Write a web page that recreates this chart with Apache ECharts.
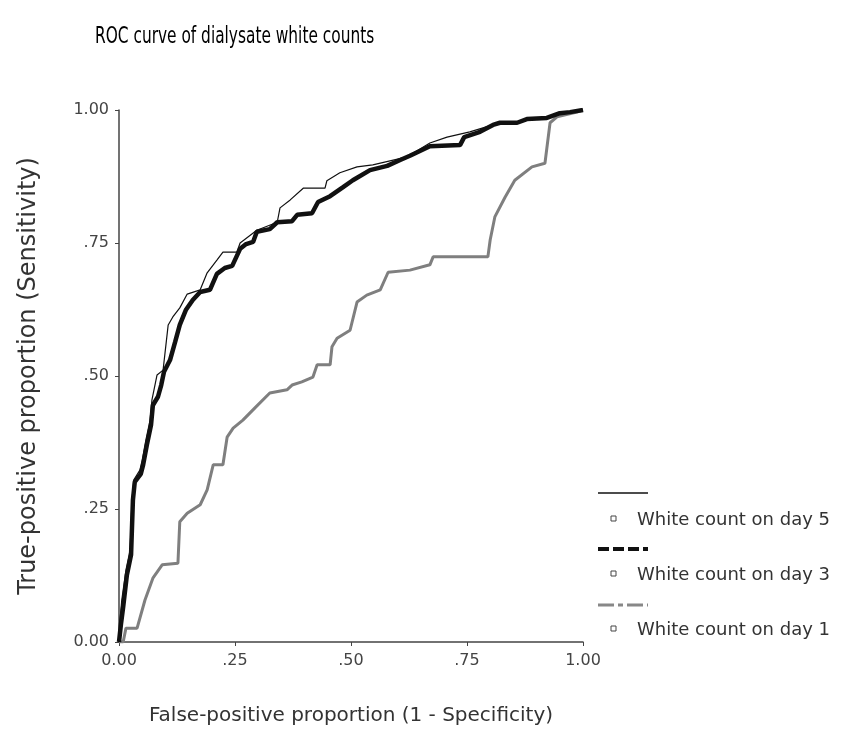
<!DOCTYPE html>
<html>
<head>
<meta charset="utf-8">
<script src="https://cdn.jsdelivr.net/npm/echarts@6/dist/echarts.min.js"></script>
<style>
  html, body { margin: 0; padding: 0; background: #fff; }
  #chart { width: 844px; height: 748px; }
</style>
</head>
<body>
<div id="chart"></div>
<script>
// ROC points: [1 - specificity, sensitivity]
const day5 = [
  [0, 0], [0.002, 0.041], [0.006, 0.079], [0.015, 0.135], [0.024, 0.173],
  [0.028, 0.267], [0.032, 0.305], [0.045, 0.323], [0.050, 0.342], [0.058, 0.380],
  [0.067, 0.417], [0.071, 0.455], [0.082, 0.502], [0.095, 0.511], [0.106, 0.596],
  [0.116, 0.611], [0.131, 0.628], [0.147, 0.654], [0.175, 0.662], [0.190, 0.694],
  [0.211, 0.718], [0.224, 0.733], [0.254, 0.733], [0.261, 0.750], [0.297, 0.774],
  [0.341, 0.789], [0.347, 0.816], [0.369, 0.831], [0.397, 0.853], [0.444, 0.853],
  [0.448, 0.867], [0.476, 0.882], [0.513, 0.893], [0.547, 0.897], [0.621, 0.912],
  [0.670, 0.938], [0.707, 0.949], [0.756, 0.959], [0.806, 0.972], [0.858, 0.976],
  [0.879, 0.983], [0.922, 0.985], [0.950, 0.994], [1, 1]
];
const day3 = [
  [0, 0], [0.004, 0.032], [0.009, 0.066], [0.017, 0.126], [0.026, 0.164],
  [0.030, 0.267], [0.034, 0.301], [0.047, 0.316], [0.052, 0.333], [0.060, 0.370],
  [0.069, 0.408], [0.073, 0.445], [0.084, 0.461], [0.091, 0.483], [0.097, 0.508],
  [0.110, 0.530], [0.121, 0.564], [0.131, 0.596], [0.144, 0.624], [0.159, 0.643],
  [0.175, 0.658], [0.196, 0.662], [0.211, 0.692], [0.228, 0.703], [0.244, 0.707],
  [0.261, 0.739], [0.274, 0.748], [0.289, 0.752], [0.297, 0.771], [0.325, 0.776],
  [0.341, 0.789], [0.373, 0.791], [0.384, 0.803], [0.416, 0.806], [0.429, 0.827],
  [0.455, 0.838], [0.483, 0.855], [0.504, 0.868], [0.541, 0.887], [0.578, 0.895],
  [0.606, 0.906], [0.627, 0.914], [0.670, 0.932], [0.735, 0.934], [0.744, 0.949],
  [0.778, 0.959], [0.806, 0.972], [0.821, 0.976], [0.858, 0.976], [0.879, 0.983],
  [0.922, 0.985], [0.950, 0.994], [0.972, 0.996], [1, 1]
];
const day1 = [
  [0, 0], [0.009, 0], [0.015, 0.026], [0.039, 0.026], [0.056, 0.079],
  [0.073, 0.120], [0.093, 0.145], [0.127, 0.148], [0.131, 0.226], [0.147, 0.242],
  [0.175, 0.258], [0.190, 0.286], [0.203, 0.333], [0.224, 0.333], [0.233, 0.385],
  [0.246, 0.402], [0.267, 0.417], [0.293, 0.440], [0.325, 0.468], [0.362, 0.474],
  [0.373, 0.483], [0.394, 0.489], [0.418, 0.498], [0.427, 0.521], [0.455, 0.521],
  [0.459, 0.555], [0.470, 0.571], [0.498, 0.586], [0.513, 0.639], [0.534, 0.652],
  [0.563, 0.662], [0.580, 0.695], [0.627, 0.699], [0.670, 0.709], [0.677, 0.724],
  [0.795, 0.724], [0.800, 0.756], [0.810, 0.799], [0.832, 0.836], [0.853, 0.868],
  [0.890, 0.893], [0.918, 0.900], [0.929, 0.976], [0.944, 0.987], [0.987, 0.996],
  [1, 1]
];
const tickValues = [0, 0.25, 0.5, 0.75, 1];
const tickLabels = ['0.00', '.25', '.50', '.75', '1.00'];
const seriesNames = ['White count on day 5', 'White count on day 3', 'White count on day 1'];
const titleText = 'ROC curve of dialysate white counts';

const txt = '#333';
const font = '"DejaVu Sans", sans-serif';
const narrow = '"DejaVu Sans Condensed", "Liberation Sans Narrow", sans-serif';
const fmt = v => {
  const i = tickValues.findIndex(t => Math.abs(t - v) < 1e-6);
  return i >= 0 ? tickLabels[i] : '';
};
const axisCommon = {
  type: 'value', min: 0, max: 1, interval: 0.25,
  nameLocation: 'middle',
  axisLine: { show: true, lineStyle: { color: '#444', width: 1.5 } },
  axisTick: { show: true, length: 4, lineStyle: { color: '#444' } },
  axisLabel: { color: '#444', fontSize: 16, fontFamily: font, formatter: fmt },
  splitLine: { show: false }
};

const chart = echarts.init(document.getElementById('chart'));
chart.setOption({
  backgroundColor: '#fff',
  animation: false,
  grid: { left: 119, top: 110, width: 464, height: 532 },
  xAxis: Object.assign({}, axisCommon, {
    name: 'False-positive proportion (1 - Specificity)', nameGap: 64,
    nameTextStyle: { color: txt, fontFamily: font, fontSize: 20 },
    axisLabel: Object.assign({}, axisCommon.axisLabel, { margin: 11 })
  }),
  yAxis: Object.assign({}, axisCommon, {
    name: 'True-positive proportion (Sensitivity)', nameGap: 78,
    nameTextStyle: { color: txt, fontFamily: font, fontSize: 24 },
    axisLabel: Object.assign({}, axisCommon.axisLabel, { margin: 10 })
  }),
  series: [
    {
      name: seriesNames[2], type: 'line', data: day1, symbol: 'none', z: 1,
      lineStyle: { color: '#7f7f7f', width: 3 }
    },
    {
      name: seriesNames[1], type: 'line', data: day3, symbol: 'none', z: 2,
      lineStyle: { color: '#111', width: 4.5 }
    },
    {
      name: seriesNames[0], type: 'line', data: day5, symbol: 'none', z: 3,
      lineStyle: { color: '#111', width: 1.2 }
    }
  ],
  graphic: [
    // title, drawn a little taller than wide like the source
    { type: 'text', x: 95, y: 26, scaleX: 0.95, scaleY: 1.25, style: { text: titleText, fill: '#000', fontSize: 18, fontFamily: narrow } },
    // legend keys: sample line above, small box and label below
    { type: 'line', shape: { x1: 598, y1: 493, x2: 648, y2: 493 }, style: { stroke: '#111', lineWidth: 1.5 } },
    { type: 'line', shape: { x1: 598, y1: 549, x2: 648, y2: 549 }, style: { stroke: '#111', lineWidth: 4, lineDash: [11, 4] } },
    { type: 'line', shape: { x1: 598, y1: 605, x2: 648, y2: 605 }, style: { stroke: '#888', lineWidth: 3, lineDash: [16, 4, 5, 4] } },
    { type: 'rect', shape: { x: 611, y: 516, width: 5, height: 5 }, style: { fill: '#fff', stroke: '#444', lineWidth: 1 } },
    { type: 'rect', shape: { x: 611, y: 571, width: 5, height: 5 }, style: { fill: '#fff', stroke: '#444', lineWidth: 1 } },
    { type: 'rect', shape: { x: 611, y: 626, width: 5, height: 5 }, style: { fill: '#fff', stroke: '#444', lineWidth: 1 } },
    { type: 'text', left: 637, top: 511, style: { text: seriesNames[0], fill: txt, fontSize: 18, fontFamily: font } },
    { type: 'text', left: 637, top: 566, style: { text: seriesNames[1], fill: txt, fontSize: 18, fontFamily: font } },
    { type: 'text', left: 637, top: 621, style: { text: seriesNames[2], fill: txt, fontSize: 18, fontFamily: font } }
  ]
});
</script>
</body>
</html>
